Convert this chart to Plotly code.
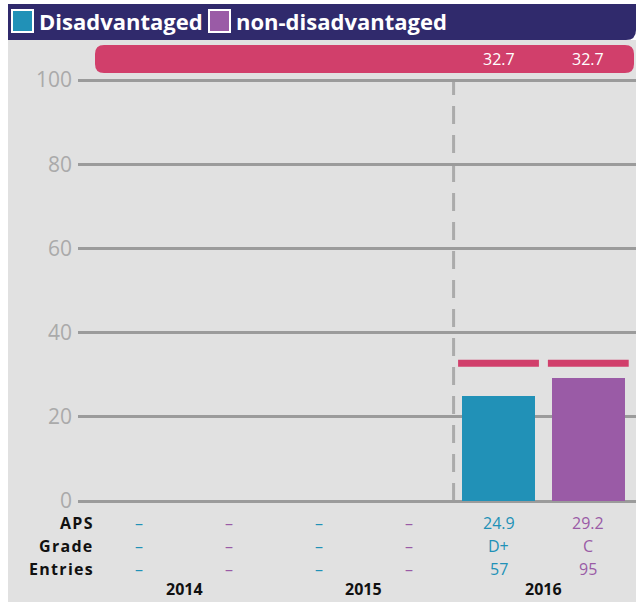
import plotly.graph_objects as go

# ---- data -------------------------------------------------------------
years = ["2014", "2015", "2016"]
groups = ["Disadvantaged", "non-disadvantaged"]
group_colors = ["#2191b7", "#9a5ba6"]

aps_dis = [None, None, 24.9]
aps_non = [None, None, 29.2]
grade_dis = [None, None, "D+"]
grade_non = [None, None, "C"]
entries_dis = [None, None, 57]
entries_non = [None, None, 95]
target_dis = [None, None, 32.7]
target_non = [None, None, 32.7]

y_ticks = [0, 20, 40, 60, 80, 100]
row_labels = ["APS", "Grade", "Entries"]

# ---- page geometry ----------------------------------------------------
W, H = 636, 603
ML, MR, MT, MB = 78, 0, 78, 100
PW, PH = W - ML - MR, H - MT - MB

NAVY = "#302a6c"
PINK = "#d13f6b"
BG = "#e1e1e1"
GRID = "#9b9b9b"
FONT = "Open Sans"


def fx(px):
    return (px - ML) / PW


def fy(py):
    return (H - MB - py) / PH


def rounded_path(x0, y0, x1, y1, r, corners=(True, True, True, True)):
    # corners: top-left, top-right, bottom-right, bottom-left (pixel coords)
    tl, tr, br, bl = corners
    pts = []
    pts.append(f"M{fx(x0 + (r if tl else 0))},{fy(y0)}")
    pts.append(f"L{fx(x1 - (r if tr else 0))},{fy(y0)}")
    if tr:
        pts.append(f"Q{fx(x1)},{fy(y0)} {fx(x1)},{fy(y0 + r)}")
    pts.append(f"L{fx(x1)},{fy(y1 - (r if br else 0))}")
    if br:
        pts.append(f"Q{fx(x1)},{fy(y1)} {fx(x1 - r)},{fy(y1)}")
    pts.append(f"L{fx(x0 + (r if bl else 0))},{fy(y1)}")
    if bl:
        pts.append(f"Q{fx(x0)},{fy(y1)} {fx(x0)},{fy(y1 - r)}")
    pts.append(f"L{fx(x0)},{fy(y0 + (r if tl else 0))}")
    if tl:
        pts.append(f"Q{fx(x0)},{fy(y0)} {fx(x0 + r)},{fy(y0)}")
    pts.append("Z")
    return " ".join(pts)


# slot layout: each year has one slot per group
aps = [aps_dis, aps_non]
grades = [grade_dis, grade_non]
entries = [entries_dis, entries_non]
targets = [target_dis, target_non]


def slot(year_idx, group_idx):
    return year_idx * len(groups) + group_idx


fig = go.Figure()

# bars
for g, name in enumerate(groups):
    xs, ys = [], []
    for yi in range(len(years)):
        if aps[g][yi] is not None:
            xs.append(slot(yi, g))
            ys.append(aps[g][yi])
    fig.add_trace(go.Bar(x=xs, y=ys, width=0.81, marker=dict(color=group_colors[g], line=dict(width=0)),
                         name=name, showlegend=False, hoverinfo="skip"))

# target markers
for g in range(len(groups)):
    for yi in range(len(years)):
        t = targets[g][yi]
        if t is not None:
            s = slot(yi, g)
            fig.add_trace(go.Scatter(x=[s - 0.45, s + 0.45], y=[t, t], mode="lines",
                                     line=dict(color=PINK, width=7), showlegend=False, hoverinfo="skip"))

shapes = []
# panel background
shapes.append(dict(type="rect", xref="paper", yref="paper", x0=fx(8), x1=fx(636), y0=fy(40), y1=fy(602),
                   fillcolor=BG, line=dict(width=0), layer="below"))
# header band
shapes.append(dict(type="path", xref="paper", yref="paper", path=rounded_path(8, 4, 636, 40, 10, (False, False, True, False)),
                   fillcolor=NAVY, line=dict(width=0), layer="below"))
# target banner
shapes.append(dict(type="path", xref="paper", yref="paper", path=rounded_path(95, 45, 634, 73, 9),
                   fillcolor=PINK, line=dict(width=0), layer="below"))
# current-year divider
shapes.append(dict(type="line", xref="x", yref="y", x0=slot(len(years) - 1, 0) - 0.5, x1=slot(len(years) - 1, 0) - 0.5,
                   y0=0, y1=100, line=dict(color="#ababab", width=3, dash="18px,11px"), layer="below"))

# legend squares
legend_sq = [(12, 33), (209, 230)]
for g, (a, b) in enumerate(legend_sq):
    shapes.append(dict(type="rect", xref="paper", yref="paper", x0=fx(a), x1=fx(b), y0=fy(10), y1=fy(32),
                       fillcolor=group_colors[g], line=dict(color="white", width=2)))

annotations = []
legend_text_x = [37, 234]
for g, name in enumerate(groups):
    annotations.append(dict(xref="paper", yref="paper", x=fx(legend_text_x[g]), y=fy(21), text=f"<b>{name}</b>",
                            showarrow=False, xanchor="left", yanchor="middle",
                            font=dict(family=FONT, size=22, color="white")))

# banner values
for g in range(len(groups)):
    for yi in range(len(years)):
        t = targets[g][yi]
        if t is not None:
            annotations.append(dict(xref="x", yref="paper", x=slot(yi, g), y=fy(59), text=f"{t}",
                                    showarrow=False, xanchor="center", yanchor="middle",
                                    font=dict(family=FONT, size=16, color="white")))

# table rows
row_py = [523, 546, 569]
for r, lab in enumerate(row_labels):
    annotations.append(dict(xref="paper", yref="paper", x=fx(96), y=fy(row_py[r]),
                            text=f"<b><span style='letter-spacing:1.3px'>{lab}</span></b>",
                            showarrow=False, xanchor="right", yanchor="middle",
                            font=dict(family=FONT, size=16, color="#111111")))

table = [aps, grades, entries]
for r, rows in enumerate(table):
    for g in range(len(groups)):
        for yi in range(len(years)):
            v = rows[g][yi]
            txt = "\u2013" if v is None else f"{v}"
            annotations.append(dict(xref="x", yref="paper", x=slot(yi, g), y=fy(row_py[r]), text=txt,
                                    showarrow=False, xanchor="center", yanchor="middle",
                                    font=dict(family=FONT, size=16, color=group_colors[g])))

# year labels
for yi, yr in enumerate(years):
    annotations.append(dict(xref="x", yref="paper", x=slot(yi, 0) + 0.5, y=fy(589), text=f"<b>{yr}</b>",
                            showarrow=False, xanchor="center", yanchor="middle",
                            font=dict(family=FONT, size=16, color="#111111")))

px_per_unit = (501 - 80) / 100
fig.update_layout(
    width=W, height=H,
    margin=dict(l=ML, r=MR, t=MT, b=MB, pad=0),
    paper_bgcolor="white", plot_bgcolor="rgba(0,0,0,0)",
    shapes=shapes, annotations=annotations,
    showlegend=False, bargap=0,
    xaxis=dict(range=[(ML - 139.3) / 89.8, (W - 139.3) / 89.8], showgrid=False, zeroline=False,
               showticklabels=False, ticks="", fixedrange=True),
    yaxis=dict(range=[-(H - MB - 501) / px_per_unit, 100 + (80 - MT) / px_per_unit],
               tickvals=y_ticks, showgrid=True, gridcolor=GRID, gridwidth=3,
               zeroline=True, zerolinecolor=GRID, zerolinewidth=3,
               ticks="", ticklabelstandoff=5,
               tickfont=dict(family=FONT, size=21, color="#aaaaaa"), fixedrange=True),
)

fig.write_html("out.html")
